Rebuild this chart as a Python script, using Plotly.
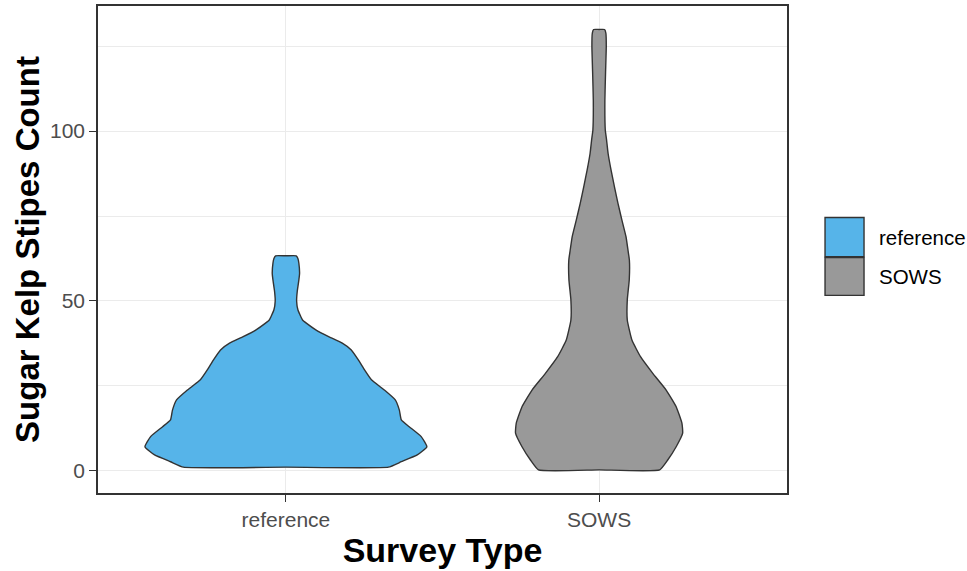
import plotly.graph_objects as go

# ---- data ----
categories = ["reference", "SOWS"]
fill_colors = ["#56B4E9", "#999999"]

# violin profiles: count values (y) and relative kernel density at each value
ref_y = [1.1, 2.7, 4.7, 7.1, 10.1, 13.0, 15.0, 17.9, 20.9, 23.8, 26.8, 29.7, 32.6,
         35.6, 37.6, 39.5, 41.5, 43.4, 44.4, 47.4, 50.0, 53.0, 56.2, 58.1, 61.1, 62.5, 63.3]
ref_density = [0.727, 0.819, 0.932, 1.000, 0.960, 0.875, 0.819, 0.805, 0.776, 0.699,
               0.607, 0.558, 0.515, 0.464, 0.400, 0.303, 0.212, 0.147, 0.118, 0.085,
               0.076, 0.081, 0.092, 0.097, 0.092, 0.085, 0.073]

sows_y = [0.3, 3.2, 7.1, 11.1, 14.0, 18.9, 23.8, 28.7, 33.6, 38.5, 44.4, 50.3, 56.2,
          62.0, 65.0, 68.9, 73.8, 78.7, 83.6, 88.5, 93.4, 97.4, 100.3, 109.0, 117.4,
          124.8, 128.8, 129.9]
sows_density = [0.430, 0.487, 0.547, 0.593, 0.588, 0.547, 0.476, 0.381, 0.294, 0.233,
                0.200, 0.200, 0.214, 0.215, 0.205, 0.191, 0.162, 0.134, 0.109, 0.085,
                0.064, 0.053, 0.044, 0.041, 0.046, 0.051, 0.048, 0.039]

y_ticks = [0, 50, 100]

profiles = [(ref_y, ref_density), (sows_y, sows_density)]
max_d = max(max(d) for _, d in profiles)
half_width_max = 0.45  # violin width 0.9 in category units

fig = go.Figure()
for i, (cat, (ys, ds)) in enumerate(zip(categories, profiles)):
    center = i + 1
    w = [d / max_d * half_width_max for d in ds]
    # right side going up, flat top (through centre), left side going down, flat bottom
    xs = [center] + [center + v for v in w] + [center] + [center - v for v in reversed(w)] + [center]
    yy = [ys[0]] + list(ys) + [ys[-1]] + list(reversed(ys)) + [ys[0]]
    fig.add_trace(go.Scatter(
        x=xs, y=yy, mode="lines", fill="toself", name=cat,
        fillcolor=fill_colors[i],
        line=dict(color="#333333", width=1.4, shape="spline", smoothing=0.4),
        showlegend=False, hoverinfo="name",
    ))

# custom ggplot-style legend keys
legend_keys = [(0.4851, 0.5657), (0.4059, 0.4836)]
for i, cat in enumerate(categories):
    y0, y1 = legend_keys[i]
    fig.add_shape(type="rect", xref="paper", yref="paper",
                  x0=1.0552, x1=1.1118, y0=y0, y1=y1,
                  fillcolor=fill_colors[i], line=dict(color="#333333", width=1.4))
    fig.add_annotation(text=cat, xref="paper", yref="paper",
                       x=1.131, y=(y0 + y1) / 2, xanchor="left", yanchor="middle",
                       showarrow=False,
                       font=dict(family="Liberation Sans, Arial", size=20.5, color="#000000"))

fig.update_layout(
    width=967, height=571,
    margin=dict(l=98, r=180, t=6, b=78, pad=0, autoexpand=False),
    plot_bgcolor="white", paper_bgcolor="white",
    font=dict(family="Liberation Sans, Arial", color="#000000"),
    showlegend=False,
)
fig.update_xaxes(
    range=[0.4, 2.6], tickvals=[1, 2], ticktext=categories, automargin=False,
    showgrid=True, gridcolor="#EBEBEB", gridwidth=1.3, zeroline=False,
    showline=True, linecolor="#333333", linewidth=1.5, mirror=True,
    ticks="outside", ticklen=7, tickcolor="#333333", tickwidth=1.3,
    tickfont=dict(size=21, color="#4D4D4D"),
    title=dict(text="<b>Survey Type</b>", font=dict(size=34, color="#000000"), standoff=8),
)
fig.update_yaxes(
    range=[-6.5, 136.8], tickvals=y_ticks, automargin=False,
    showgrid=True, gridcolor="#EBEBEB", gridwidth=1.3, zeroline=False,
    minor=dict(tickvals=[25, 75, 125], showgrid=True, gridcolor="#EBEBEB", gridwidth=0.7, ticks=""),
    showline=True, linecolor="#333333", linewidth=1.5, mirror=True,
    ticks="outside", ticklen=7, tickcolor="#333333", tickwidth=1.3,
    tickfont=dict(size=21, color="#4D4D4D"),
    title=dict(text="<b>Sugar Kelp Stipes Count</b>", font=dict(size=33, color="#000000"), standoff=0),
)

fig.write_html("out.html", config={"displayModeBar": False},
               post_script="document.body.style.margin='0px';")
